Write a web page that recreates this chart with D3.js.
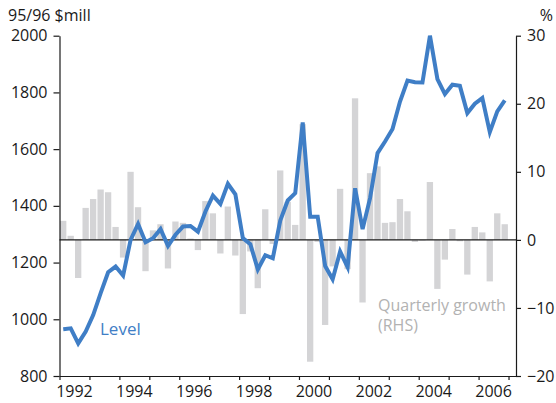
<!DOCTYPE html>
<html>
<head>
<meta charset="utf-8">
<script src="https://cdn.jsdelivr.net/npm/d3@7"></script>
<style>
	body { margin: 0; background: #fff; }
	svg text { font-family: 'Open Sans', 'DejaVu Sans', sans-serif; }
</style>
</head>
<body>
<div id="chart"></div>
<script>
// quarterly, 1992Q1 - 2006Q4
var quarters = [
	'1992Q1', '1992Q2', '1992Q3', '1992Q4', '1993Q1', '1993Q2', '1993Q3', '1993Q4',
	'1994Q1', '1994Q2', '1994Q3', '1994Q4', '1995Q1', '1995Q2', '1995Q3', '1995Q4',
	'1996Q1', '1996Q2', '1996Q3', '1996Q4', '1997Q1', '1997Q2', '1997Q3', '1997Q4',
	'1998Q1', '1998Q2', '1998Q3', '1998Q4', '1999Q1', '1999Q2', '1999Q3', '1999Q4',
	'2000Q1', '2000Q2', '2000Q3', '2000Q4', '2001Q1', '2001Q2', '2001Q3', '2001Q4',
	'2002Q1', '2002Q2', '2002Q3', '2002Q4', '2003Q1', '2003Q2', '2003Q3', '2003Q4',
	'2004Q1', '2004Q2', '2004Q3', '2004Q4', '2005Q1', '2005Q2', '2005Q3', '2005Q4',
	'2006Q1', '2006Q2', '2006Q3', '2006Q4'
];
// level, 95/96 $mill (LHS)
var level = [
	965, 968, 915, 957, 1015, 1092, 1166, 1186, 1154, 1280,
	1336, 1272, 1286, 1318, 1259, 1298, 1327, 1329, 1309, 1380,
	1436, 1407, 1478, 1441, 1286, 1265, 1176, 1226, 1215, 1348,
	1419, 1445, 1694, 1362, 1362, 1188, 1141, 1239, 1184, 1462,
	1318, 1427, 1586, 1627, 1671, 1768, 1842, 1836, 1835, 2000,
	1847, 1794, 1827, 1823, 1727, 1760, 1780, 1660, 1733, 1772
];
// quarterly growth, % (RHS)
var growth = [
	2.8, 0.6, -5.6, 4.7, 6.0, 7.4, 7.0, 1.9, -2.6, 10.0,
	4.8, -4.6, 1.4, 2.3, -4.2, 2.7, 2.5, 0.2, -1.5, 5.7,
	3.9, -2.0, 4.9, -2.3, -10.9, -1.7, -7.1, 4.5, -0.6, 10.2,
	5.6, 2.2, 17.0, -17.9, -0.3, -12.5, -3.9, 7.5, -4.3, 20.8,
	-9.2, 9.8, 10.8, 2.5, 2.6, 6.0, 4.2, -0.3, -0.1, 8.5,
	-7.2, -2.9, 1.6, -0.2, -5.1, 1.9, 1.1, -6.1, 3.9, 2.3
];
var leftTicks = [800, 1000, 1200, 1400, 1600, 1800, 2000];
var rightTicks = [-20, -10, 0, 10, 20, 30];
var yearTicks = [1992, 1993, 1994, 1995, 1996, 1997, 1998, 1999, 2000, 2001, 2002, 2003, 2004, 2005, 2006, 2007];
var yearLabels = ['1992', '1994', '1996', '1998', '2000', '2002', '2004', '2006'];

const WIDTH = 556;
const HEIGHT = 403;
const LEFT = 59.5, RIGHT = 516, TOP = 35.7, BOTTOM = 376;
const BLUE = '#3f7ec6';
const BAR = '#d4d4d6';
const INK = '#1a1a1a';

function qStart (q) {
	return +q.slice(0, 4) + (+q.slice(5) - 1) * 0.25;
}

var x = d3.scaleLinear().domain([1992, 2007.25]).range([LEFT, RIGHT]);
var yL = d3.scaleLinear().domain([800, 2000]).range([BOTTOM, TOP]);
var yR = d3.scaleLinear().domain([-20, 30]).range([BOTTOM, TOP]);

var svg = d3.select('#chart').append('svg')
	.attr('width', WIDTH)
	.attr('height', HEIGHT);

// growth bars
svg.append('g').selectAll('rect')
	.data(quarters)
	.enter().append('rect')
	.attr('x', function (d) { return x(qStart(d) + 0.018); })
	.attr('width', function (d) { return x(qStart(d) + 0.229) - x(qStart(d) + 0.018); })
	.attr('y', function (d, i) { return yR(Math.max(0, growth[i])); })
	.attr('height', function (d, i) { return Math.abs(yR(growth[i]) - yR(0)); })
	.attr('fill', BAR);

// zero line
svg.append('line')
	.attr('x1', LEFT).attr('x2', RIGHT)
	.attr('y1', yR(0)).attr('y2', yR(0))
	.attr('stroke', INK)
	.attr('stroke-width', 1.3);

// axes
var axL = svg.append('g')
	.attr('transform', 'translate(' + LEFT + ',0)')
	.call(d3.axisLeft(yL).tickValues(leftTicks).tickFormat(d3.format('d'))
		.tickSize(6).tickSizeOuter(0).tickPadding(6));
var axR = svg.append('g')
	.attr('transform', 'translate(' + RIGHT + ',0)')
	.call(d3.axisRight(yR).tickValues(rightTicks).tickFormat(d3.format('d'))
		.tickSize(5).tickSizeOuter(0).tickPadding(6));
var axB = svg.append('g')
	.attr('transform', 'translate(0,' + BOTTOM + ')')
	.call(d3.axisBottom(x).tickValues(yearTicks).tickSize(4).tickSizeOuter(0).tickFormat(''));

[axL, axR, axB].forEach(function (ax) {
	ax.selectAll('path, line').attr('stroke', INK).attr('stroke-width', 1.2);
	ax.selectAll('text')
		.attr('fill', INK)
		.style('font-size', '16px')
		.style('font-family', "'Open Sans', sans-serif");
});

// year labels, centred in the year
svg.append('g').selectAll('text')
	.data(yearLabels)
	.enter().append('text')
	.attr('x', function (d) { return x(+d + 0.5); })
	.attr('y', 397)
	.attr('text-anchor', 'middle')
	.attr('fill', INK)
	.style('font-size', '16px')
	.text(function (d) { return d; });

// level line
var line = d3.line()
	.x(function (d) { return x(qStart(d) + 0.125); })
	.y(function (d, i) { return yL(level[i]); });

svg.append('path')
	.datum(quarters)
	.attr('d', line)
	.attr('fill', 'none')
	.attr('stroke', BLUE)
	.attr('stroke-width', 4)
	.attr('stroke-linejoin', 'miter');

// titles
svg.append('text')
	.attr('x', 8).attr('y', 21)
	.attr('fill', INK)
	.style('font-size', '16px')
	.text('95/96 $mill');
svg.append('text')
	.attr('x', 553).attr('y', 21)
	.attr('text-anchor', 'end')
	.attr('fill', INK)
	.style('font-size', '16px')
	.text('%');

// series labels
svg.append('text')
	.attr('x', 100).attr('y', 335)
	.attr('fill', BLUE)
	.style('font-size', '17px')
	.text('Level');
svg.append('text')
	.attr('x', 378).attr('y', 311)
	.attr('fill', '#b2b2b2')
	.style('font-size', '16px')
	.text('Quarterly growth');
svg.append('text')
	.attr('x', 378).attr('y', 331)
	.attr('fill', '#b2b2b2')
	.style('font-size', '16px')
	.text('(RHS)');
</script>
</body>
</html>
